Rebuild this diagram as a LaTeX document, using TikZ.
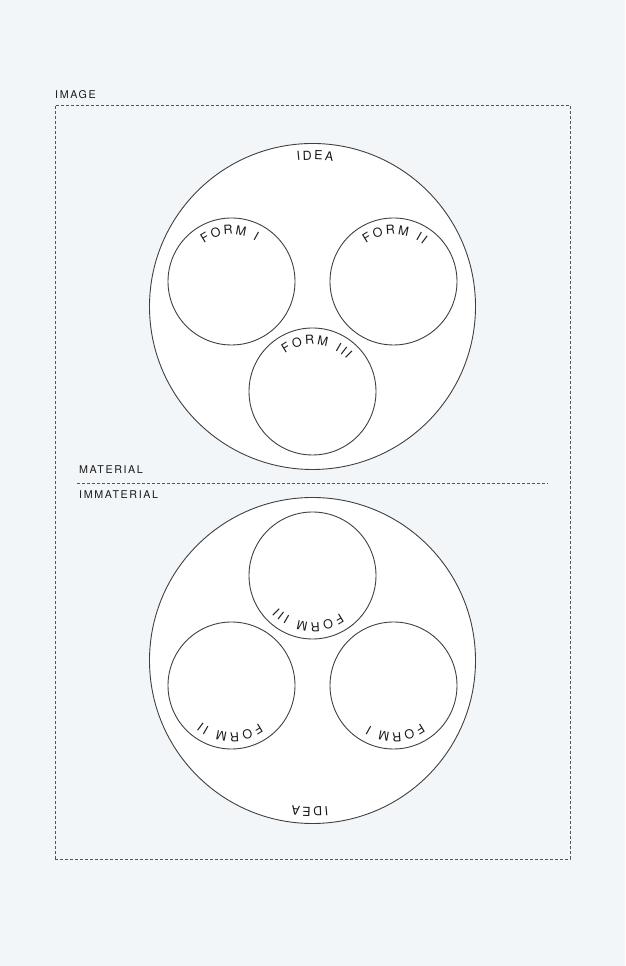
\documentclass[tikz,border=0pt]{standalone}
\usepackage{fontspec}
\setmainfont{TeX Gyre Heros}
\newfontfamily\labelfont[LetterSpace=15]{TeX Gyre Heros}
\usetikzlibrary{decorations.text}
\definecolor{bg}{HTML}{F2F6F9}
\definecolor{ink}{HTML}{404040}
\definecolor{dashink}{HTML}{555555}
\definecolor{txt}{HTML}{1A1A1A}
\newcommand\arctext[5]{%
  \path[decorate, decoration={text along path, text color=txt,
    text={|\fontsize{12.5}{14}\selectfont|#5}, text align={fit to path}}]
    ([shift={(#3:#2)}]#1.center) arc[start angle=#3, end angle=#4, radius=#2];}
\tikzset{
  bigc/.style={circle, draw=ink, fill=white, line width=0.9pt, minimum size=326pt, inner sep=0pt, outer sep=0pt},
  smallc/.style={circle, draw=ink, fill=white, line width=0.9pt, minimum size=127pt, inner sep=0pt, outer sep=0pt},
  frame/.style={draw=dashink, line width=0.9pt, dash pattern=on 3pt off 2pt, minimum width=515pt, minimum height=754pt, inner sep=0pt},
  divider/.style={draw=dashink, line width=0.9pt, dash pattern=on 3pt off 2pt},
  lbl/.style={font=\labelfont\fontsize{10.7}{12}\selectfont, text=txt, inner sep=0pt, anchor=base west}
}
\begin{document}
\begin{tikzpicture}[x=1pt,y=1pt]
\fill[bg] (0,0) rectangle (625,966);
\useasboundingbox (0,0) rectangle (625,966);
\node[frame] (frm) at (312.5,484) {};
\node[lbl] (image) at (55,867) {IMAGE};
\node[lbl] (mat) at (79,492) {MATERIAL};
\node[lbl] (immat) at (79,467) {IMMATERIAL};
\coordinate (dl) at (77,482.5);
\coordinate (dr) at (548,482.5);
\draw[divider] (dl) -- (dr);
% upper
\node[bigc] (idea1) at (312.5,659.5) {};
\node[smallc] (f1) at (231.5,684.5) {};
\node[smallc] (f2) at (393.5,684.5) {};
\node[smallc] (f3) at (312.5,574.5) {};
\arctext{idea1}{146.5}{96}{82}{IDEA}
\arctext{f1}{47}{126}{59}{FORM I}
\arctext{f2}{47}{126}{51}{FORM II}
\arctext{f3}{47}{126}{43}{FORM III}
% lower
\node[bigc] (idea2) at (312.5,305.5) {};
\node[smallc] (g1) at (393.5,280.5) {};
\node[smallc] (g2) at (231.5,280.5) {};
\node[smallc] (g3) at (312.5,390.5) {};
\arctext{idea2}{146.5}{276}{262}{IDEA}
\arctext{g1}{47}{306}{239}{FORM I}
\arctext{g2}{47}{306}{231}{FORM II}
\arctext{g3}{47}{306}{223}{FORM III}
\end{tikzpicture}
\end{document}
